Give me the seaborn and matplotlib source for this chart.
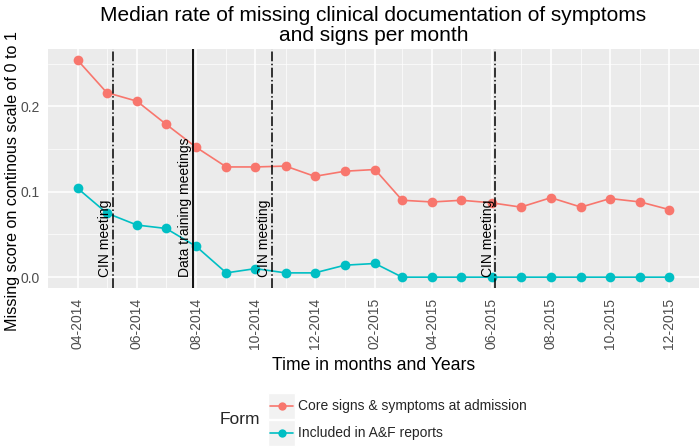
import pandas as pd
import numpy as np
import seaborn as sns
import matplotlib.pyplot as plt
import matplotlib.dates as mdates
from matplotlib.patches import Rectangle

months = pd.date_range('2014-04-01', '2015-12-01', freq='MS')
core = [0.254, 0.216, 0.206, 0.179, 0.152, 0.129, 0.129, 0.130, 0.118, 0.124, 0.126,
        0.090, 0.088, 0.090, 0.087, 0.082, 0.093, 0.082, 0.092, 0.088, 0.079]
af = [0.104, 0.075, 0.061, 0.057, 0.036, 0.005, 0.010, 0.005, 0.005, 0.014, 0.016,
      0.0, 0.0, 0.0, 0.0, 0.0, 0.0, 0.0, 0.0, 0.0, 0.0]
forms = ['Core signs & symptoms at admission', 'Included in A&F reports']
events = ['2014-05-07', '2014-07-29', '2014-10-18', '2015-06-05']
event_labels = ['CIN meeting', 'Data training meetings', 'CIN meeting', 'CIN meeting']
event_styles = ['-.', '-', '-.', '-.']

df = pd.DataFrame({
    'month': list(months) * 2,
    'score': core + af,
    'Form': [forms[0]] * len(core) + [forms[1]] * len(af),
})

sns.set_theme(style='darkgrid', rc={
    'axes.facecolor': '#EBEBEB',
    'grid.color': 'white',
    'axes.edgecolor': '#EBEBEB',
})
plt.rcParams['font.family'] = ['Liberation Sans', 'DejaVu Sans']

fig = plt.figure(figsize=(7, 4.47), dpi=100)
ax = fig.add_axes([0.0686, 0.3557, 0.93, 0.534])

sns.lineplot(data=df, x='month', y='score', hue='Form', marker='o',
             palette=['#F8766D', '#00BFC4'], markersize=7, markeredgewidth=0,
             linewidth=1.2, ax=ax, legend=False)

for d, lab, ls in zip(events, event_labels, event_styles):
    d = pd.Timestamp(d)
    ax.axvline(d, color='black', linestyle=ls, linewidth=1.3 if ls == '-' else 1.1)
    ax.text(d - pd.Timedelta(days=1), 0.0, lab, rotation=90, ha='right', va='bottom',
            fontsize=10, color='black')

span = months[-1] - months[0]
ax.set_xlim(months[0] - span * 0.05, months[-1] + span * 0.05)
ax.set_ylim(-0.0127, 0.2667)
ax.set_yticks([0.0, 0.1, 0.2])
ax.set_yticks([0.05, 0.15, 0.25], minor=True)
ax.xaxis.set_major_locator(mdates.MonthLocator(bymonth=[2, 4, 6, 8, 10, 12]))
ax.xaxis.set_minor_locator(mdates.MonthLocator(bymonth=[1, 3, 5, 7, 9, 11]))
ax.xaxis.set_major_formatter(mdates.DateFormatter('%m-%Y'))
ax.grid(which='major', color='white', linewidth=1.1)
ax.grid(which='minor', color='white', linewidth=0.5)
ax.tick_params(axis='both', which='major', length=3, width=0.8, color='#333333',
               labelcolor='#4D4D4D', labelsize=10, pad=3)
ax.tick_params(axis='x', which='major', labelrotation=90, pad=4)
ax.tick_params(which='minor', length=0)
for s in ax.spines.values():
    s.set_visible(False)

ax.set_xlabel('Time in months and Years', fontsize=12.7, color='black', labelpad=6)
ax.set_ylabel('Missing score on continous scale of 0 to 1', fontsize=11.6, color='black')
ax.yaxis.set_label_coords(-0.043, 0.448)
ax.set_title('Median rate of missing clinical documentation of symptoms\nand signs per month',
             fontsize=15, color='black', pad=6, linespacing=1.05)

# legend at the bottom, ggplot-like
fig.text(220 / 700, 1 - 420 / 447, 'Form', fontsize=12.5, va='center', ha='left')
colors = ['#F8766D', '#00BFC4']
for i, (lab, c) in enumerate(zip(forms, colors)):
    y0 = 393 + i * 26.5
    fig.patches.append(Rectangle((268 / 700, 1 - (y0 + 26) / 447), 27 / 700, 26 / 447,
                                 transform=fig.transFigure, facecolor='#F2F2F2',
                                 edgecolor='white', linewidth=1))
    yc = 1 - (y0 + 13) / 447
    fig.add_artist(plt.Line2D([270 / 700, 293 / 700], [yc, yc], color=c, linewidth=1.2,
                              transform=fig.transFigure))
    fig.add_artist(plt.Line2D([281.5 / 700], [yc], color=c, marker='o', markersize=6,
                              markeredgewidth=0, transform=fig.transFigure))
    fig.text(298 / 700, yc, lab, fontsize=10, va='center', ha='left')

fig.savefig('out.png', dpi=100)
